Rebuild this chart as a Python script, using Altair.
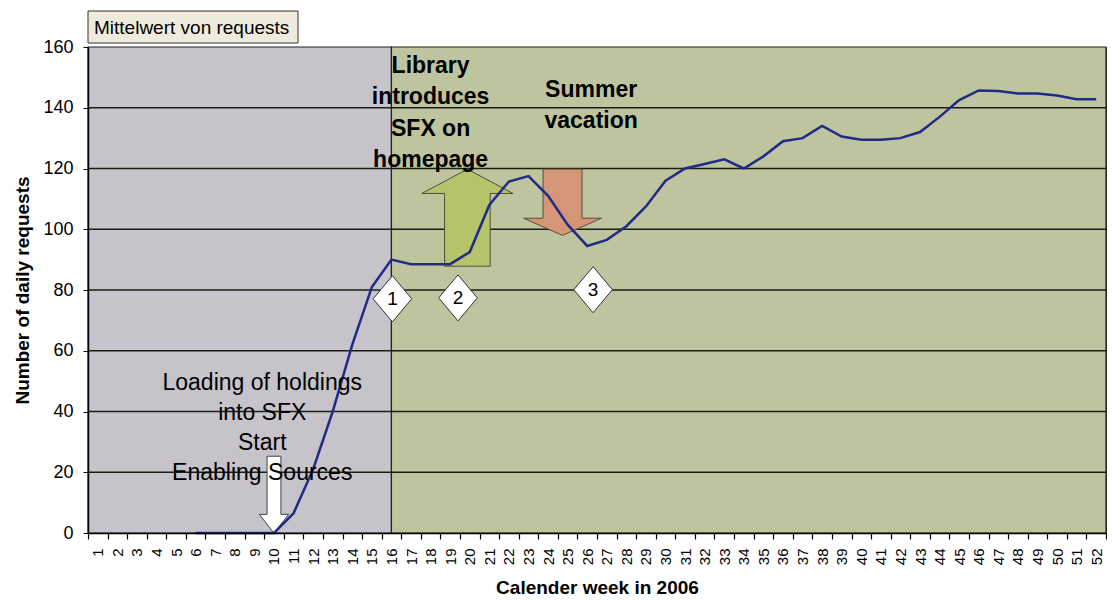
import altair as alt
import pandas as pd

# ---------------- data ----------------
weeks = list(range(6, 53))
requests = [0, 0, 0, 0, 0, 6.5, 21, 40, 62, 81, 90,
            88.5, 88.5, 88.5, 92.5, 108, 115.7, 117.5, 111, 101.5, 94.5,
            96.5, 101, 107.5, 116, 120, 121.5, 123, 120, 124, 129,
            130, 134, 130.5, 129.5, 129.5, 130, 132, 137, 142.5, 145.7,
            145.5, 144.7, 144.7, 144, 142.8, 142.8]

week_labels = list(range(1, 53))
week_edges = [w + 0.5 for w in range(0, 53)]
y_ticks = [0, 20, 40, 60, 80, 100, 120, 140, 160]
grid_values = [20, 40, 60, 80, 100, 120, 140]

period_name = ["setup", "live"]
period_start = [0.5, 16]
period_end = [16, 52.5]
period_low = [0, 0]
period_high = [160, 160]

box_label = ["Mittelwert von requests"]

bold_text = ["Library", "introduces", "SFX on", "homepage", "Summer", "vacation"]
bold_week = [18.0, 18.0, 18.0, 18.0, 26.2, 26.2]
bold_value = [153.6, 143.4, 132.9, 122.7, 145.7, 135.5]

plain_text = ["Loading of holdings", "into SFX", "Start", "Enabling Sources"]
plain_week = [9.4, 9.4, 9.4, 9.4]
plain_value = [49.3, 39.4, 29.5, 19.7]

up_arrow_week = [19.88]
up_arrow_value = [103.8]
down_arrow_week = [24.74]
down_arrow_value = [108.9]
start_arrow_week = [10.0]
start_arrow_value = [12.6]

marker_label = ["1", "2", "3"]
marker_week = [16.05, 19.4, 26.3]
marker_value = [77.1, 77.4, 80.1]

# ---------------- styling ----------------
FONT = "Liberation Sans"
GRAY = "#C6C3CA"
GREEN = "#BEC59E"
LINE = "#222A85"

UP_PATH = "M0,-1 L0.94,-0.5 L0.47,-0.5 L0.47,1 L-0.47,1 L-0.47,-0.5 L-0.94,-0.5 Z"
DOWN_PATH = "M-0.5,-0.85 L0.5,-0.85 L0.5,0.41 L1,0.41 L0,0.85 L-1,0.41 L-0.5,0.41 Z"
START_PATH = "M-0.18,-1 L0.18,-1 L0.18,0.51 L0.38,0.51 L0,1 L-0.38,0.51 L-0.18,0.51 Z"
DIAMOND_PATH = "M0,-1 L0.84,0 L0,1 L-0.84,0 Z"

x_scale = alt.Scale(domain=[0.5, 52.5], nice=False, zero=False)
y_scale = alt.Scale(domain=[0, 160], nice=False, zero=True)

df_line = pd.DataFrame({"week": weeks, "requests": requests})
df_period = pd.DataFrame({"name": period_name, "start": period_start, "end": period_end,
                          "low": period_low, "high": period_high})
df_grid = pd.DataFrame({"v": grid_values})
df_bold = pd.DataFrame({"t": bold_text, "week": bold_week, "value": bold_value})
df_plain = pd.DataFrame({"t": plain_text, "week": plain_week, "value": plain_value})
df_up = pd.DataFrame({"week": up_arrow_week, "value": up_arrow_value})
df_down = pd.DataFrame({"week": down_arrow_week, "value": down_arrow_value})
df_start = pd.DataFrame({"week": start_arrow_week, "value": start_arrow_value})
df_mark = pd.DataFrame({"label": marker_label, "week": marker_week, "value": marker_value})
df_box = pd.DataFrame({"label": box_label})

tick_axis = alt.Axis(values=week_edges, labels=False, ticks=True, tickSize=6,
                     tickColor="black", tickWidth=1.2, domain=False, grid=False,
                     title=None, orient="bottom", zindex=1)

main_x_axis = alt.Axis(values=week_labels, ticks=False, labelAngle=270,
                       labelFontSize=15, labelPadding=15, labelFlush=False,
                       labelOverlap=False, domain=True, domainColor="black",
                       domainWidth=1.5, grid=False, title="Calender week in 2006",
                       titleFontSize=19, titleFontWeight="bold", titlePadding=14,
                       orient="bottom", zindex=1)

y_axis = alt.Axis(values=y_ticks, tickSize=5, tickColor="black", labelFontSize=18,
                  labelPadding=10, domainColor="black", domainWidth=1.5, grid=False,
                  title="Number of daily requests", titleFontSize=19,
                  titleFontWeight="bold", titlePadding=10, zindex=1, orient="left")


def ypos(field):
    return alt.Y(field, scale=y_scale, axis=y_axis)


bg = alt.Chart(df_period).mark_rect(stroke="#222222", strokeWidth=1.2).encode(
    x=alt.X("start:Q", scale=x_scale, axis=tick_axis),
    x2="end:Q",
    y=ypos("low:Q"),
    y2="high:Q",
    color=alt.Color("name:N", scale=alt.Scale(domain=period_name, range=[GRAY, GREEN]), legend=None),
)

grid = alt.Chart(df_grid).mark_rule(color="#1c1c10", strokeWidth=1.5).encode(
    y=ypos("v:Q")
)


def arrow(df, path, size, fill, stroke):
    return alt.Chart(df).mark_point(shape=path, size=size, filled=True, fill=fill,
                                    stroke=stroke, strokeWidth=1, opacity=1).encode(
        x=alt.X("week:Q", scale=x_scale, axis=None),
        y=ypos("value:Q"),
    )


up = arrow(df_up, UP_PATH, 9409, "#B5C46A", "#4A4F35")
down = arrow(df_down, DOWN_PATH, 6084, "#D49676", "#5A4A3C")
start = arrow(df_start, START_PATH, 5929, "#FFFFFF", "#444444")

line = alt.Chart(df_line).mark_line(color=LINE, strokeWidth=2.5).encode(
    x=alt.X("week:Q", scale=x_scale, axis=main_x_axis),
    y=ypos("requests:Q"),
)

bold_txt = alt.Chart(df_bold).mark_text(fontSize=23, fontWeight="bold", color="black",
                                        align="center", baseline="middle", font=FONT).encode(
    x=alt.X("week:Q", scale=x_scale, axis=None),
    y=ypos("value:Q"),
    text="t:N",
)

plain_txt = alt.Chart(df_plain).mark_text(fontSize=23, color="black", align="center",
                                          baseline="middle", font=FONT).encode(
    x=alt.X("week:Q", scale=x_scale, axis=None),
    y=ypos("value:Q"),
    text="t:N",
)

diamonds = alt.Chart(df_mark).mark_point(shape=DIAMOND_PATH, size=2116, filled=True,
                                         fill="white", stroke="#333333", strokeWidth=1,
                                         opacity=1).encode(
    x=alt.X("week:Q", scale=x_scale, axis=None),
    y=ypos("value:Q"),
)

diamond_txt = alt.Chart(df_mark).mark_text(fontSize=19, color="black", align="center",
                                           baseline="middle", font=FONT).encode(
    x=alt.X("week:Q", scale=x_scale, axis=None),
    y=ypos("value:Q"),
    text="label:N",
)

box = alt.Chart(df_box).mark_rect(fill="#EEEBDD", stroke="#333333", strokeWidth=1).encode(
    x=alt.value(0), x2=alt.value(210), y=alt.value(-36), y2=alt.value(-4)
)
box_txt = alt.Chart(df_box).mark_text(fontSize=19, color="black", align="left",
                                      baseline="middle", font=FONT).encode(
    x=alt.value(6), y=alt.value(-19), text="label:N"
)

chart = alt.layer(
    bg, grid, up, down, start, line, bold_txt, plain_txt, diamonds, diamond_txt, box, box_txt
).resolve_axis(x="independent", y="shared").properties(
    width=1018, height=486,
    padding={"left": 5, "top": 2, "right": 0, "bottom": 0},
).configure(font=FONT).configure_view(stroke="#333333", strokeWidth=1).configure_axis(
    labelColor="black", titleColor="black", labelFont=FONT, titleFont=FONT
)

chart.save("out.html", embed_options={"renderer": "svg", "actions": False})
